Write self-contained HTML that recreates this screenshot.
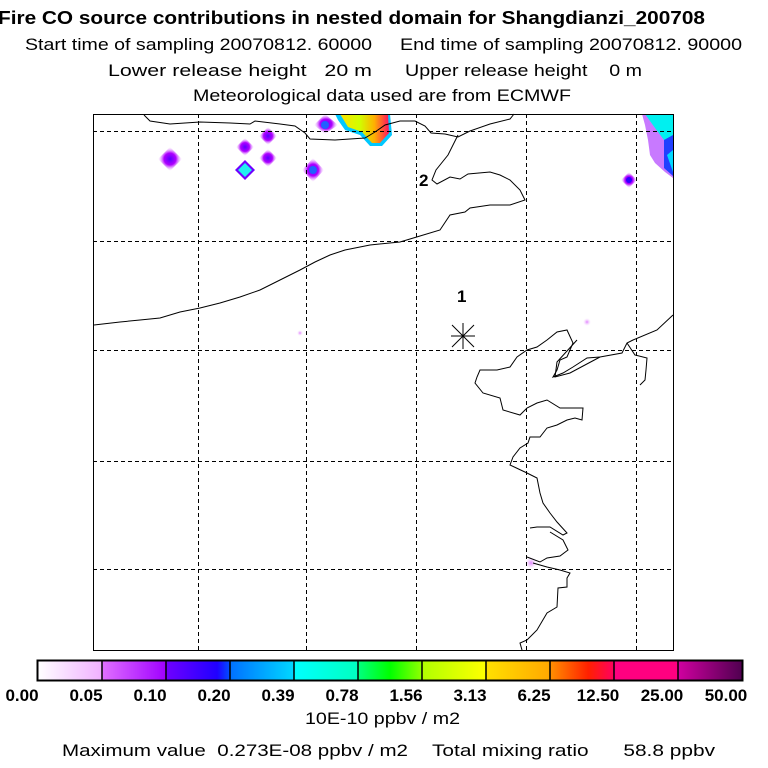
<!DOCTYPE html>
<html><head><meta charset="utf-8"><style>
body{margin:0;background:#fff;width:768px;height:768px;overflow:hidden}
svg{display:block}
text{font-family:"Liberation Sans",sans-serif;fill:#000;white-space:pre}
</style></head><body>
<svg width="768" height="768" viewBox="0 0 768 768" xmlns="http://www.w3.org/2000/svg" xml:space="preserve">
<defs>
<radialGradient id="pp"><stop offset="0" stop-color="#5a00ff"/><stop offset="0.5" stop-color="#b000ff"/><stop offset="1" stop-color="#f0c0ff" stop-opacity="0"/></radialGradient>
<radialGradient id="lp"><stop offset="0" stop-color="#e080ff"/><stop offset="1" stop-color="#f8e0ff" stop-opacity="0"/></radialGradient>
<linearGradient id="yl" x1="0" y1="0" x2="1" y2="0"><stop offset="0" stop-color="#ffe000"/><stop offset="0.4" stop-color="#d0ff00"/><stop offset="0.7" stop-color="#ffb000"/><stop offset="1" stop-color="#ff1060"/></linearGradient>
</defs>
<text x="-2" y="24" font-size="18" font-weight="bold" textLength="707" lengthAdjust="spacingAndGlyphs">Fire CO source contributions in nested domain for Shangdianzi_200708</text>
<text x="25" y="50" font-size="17" textLength="347" lengthAdjust="spacingAndGlyphs">Start time of sampling 20070812. 60000</text>
<text x="400" y="50" font-size="17" textLength="342" lengthAdjust="spacingAndGlyphs">End time of sampling 20070812. 90000</text>
<text x="108" y="76" font-size="17" textLength="264" lengthAdjust="spacingAndGlyphs">Lower release height   20 m</text>
<text x="405" y="76" font-size="17" textLength="237" lengthAdjust="spacingAndGlyphs">Upper release height    0 m</text>
<text x="193" y="101" font-size="17" textLength="378" lengthAdjust="spacingAndGlyphs">Meteorological data used are from ECMWF</text>

<g>
<polygon points="170,147 182,159 170,171 158,159" fill="url(#pp)"/>
<polygon points="245,138 254,147 245,156 236,147" fill="url(#pp)"/>
<polygon points="268,127 277,136 268,145 259,136" fill="url(#pp)"/>
<polygon points="268,149 277,158 268,167 259,158" fill="url(#pp)"/>
<polygon points="245,160 255,170 245,180 235,170" fill="#7000ff"/>
<polygon points="245,163 252,170 245,177 238,170" fill="#20f0f0"/>
<polygon points="313,158 324,170 313,182 302,170" fill="url(#pp)"/>
<circle cx="313" cy="170" r="4" fill="#2060ff"/>
<polygon points="325,114 338,125 325,134 314,125" fill="url(#pp)"/>
<circle cx="325" cy="125" r="4" fill="#2060ff"/>
<polygon points="335,114 390,114 392,135 382,146 370,146 360,135 345,130 338,120" fill="#00c8ff"/>
<polygon points="340,114 388,114 389,133 380,143 372,143 362,132 348,127" fill="url(#yl)"/>
<polygon points="642,114 673,114 673,178 665,172 655,163 650,155 648,140 645,125" fill="#b040ff" opacity="0.7"/>
<polygon points="645,114 673,114 673,150 664,140 655,128" fill="#00f0f0"/>
<polygon points="664,140 673,135 673,176 664,168" fill="#2040ff"/>
<polygon points="667,155 673,150 673,172" fill="#00d8ff"/>
<polygon points="629,172 637,180 629,188 621,180" fill="url(#pp)"/>
<circle cx="629" cy="180" r="3" fill="#3000ff"/>
<circle cx="300" cy="333" r="3" fill="url(#lp)"/>
<circle cx="587" cy="322" r="4" fill="url(#lp)"/>
<circle cx="531" cy="563" r="6" fill="url(#lp)"/>
</g>

<g stroke="#000" stroke-width="1" stroke-dasharray="4,3" fill="none">
<line x1="198.5" y1="114" x2="198.5" y2="650"/>
<line x1="306.5" y1="114" x2="306.5" y2="650"/>
<line x1="416.5" y1="114" x2="416.5" y2="650"/>
<line x1="526.5" y1="114" x2="526.5" y2="650"/>
<line x1="636.5" y1="114" x2="636.5" y2="650"/>
<line x1="93" y1="131.5" x2="673" y2="131.5"/>
<line x1="93" y1="241.5" x2="673" y2="241.5"/>
<line x1="93" y1="350.5" x2="673" y2="350.5"/>
<line x1="93" y1="461.5" x2="673" y2="461.5"/>
<line x1="93" y1="569.5" x2="673" y2="569.5"/>
</g>

<g stroke="#000" stroke-width="1" fill="none">
<polyline points="144,115 150,121 170,124 200,122 230,123 250,124 255,121 280,124 295,126 305,133 310,139 335,140 365,138 375,132 385,125 400,121 415,121 425,126 431,133 445,134 458,137 470,131 490,124 510,119 514,114"/>
<polyline points="458,135 448,155 436,170 432,180 437,184 450,177 460,179 468,174 490,172 500,175 510,180 520,190 525,200 510,205 490,205 470,208 465,212 450,215 440,230 420,236 400,242 370,245 345,250 330,255 315,262 300,270 280,280 260,290 240,297 220,303 200,308 180,312 160,318 140,320 120,322 94,325"/>
<polyline points="673,315 657,330 633,340 627,343 622,353 600,357 587,358 573,367 563,373 553,377 557,370 560,360 567,357 573,343 567,330 557,332 547,340 537,347 527,350 517,357 510,367 497,370 480,370 477,377 475,383 483,393 500,398 503,410 520,415 527,408 537,403 547,400 560,408 583,408 582,420 575,418 567,420 557,425 547,428 540,437 530,437 528,443 520,448 513,457 510,465 527,473 537,478 540,493 543,503 550,513 557,522 567,533 563,535 550,527 537,527 530,528"/>
<polyline points="527,557 540,562 547,558 560,556 568,550 563,540 550,532"/>
<polyline points="533,563 547,567 560,570 570,573 567,578 567,587 558,588 557,607 547,613 537,630 527,640 520,643 522,650"/>
<polyline points="627,343 635,355 647,358 646,370 645,380 640,385"/>
<polyline points="577,340 557,362 555,377 570,373 600,357"/>
</g>
<rect x="93.5" y="114.5" width="580" height="536" fill="none" stroke="#000" stroke-width="1"/>

<text x="457" y="302" font-size="17" font-weight="bold">1</text>
<text x="419" y="186" font-size="17" font-weight="bold">2</text>
<g stroke="#000" stroke-width="1">
<line x1="451" y1="336" x2="475" y2="336"/><line x1="463" y1="323" x2="463" y2="349"/>
<line x1="452" y1="325" x2="474" y2="347"/><line x1="474" y1="325" x2="452" y2="347"/>
</g>

<defs>
<linearGradient id="c1"><stop offset="0" stop-color="#fff"/><stop offset="1" stop-color="#f0b0ff"/></linearGradient>
<linearGradient id="c2"><stop offset="0" stop-color="#e070ff"/><stop offset="1" stop-color="#a000ff"/></linearGradient>
<linearGradient id="c3"><stop offset="0" stop-color="#7000ff"/><stop offset="0.8" stop-color="#2000ff"/><stop offset="1" stop-color="#0050ff"/></linearGradient>
<linearGradient id="c4"><stop offset="0" stop-color="#0070ff"/><stop offset="1" stop-color="#00d8ff"/></linearGradient>
<linearGradient id="c5"><stop offset="0" stop-color="#00ffff"/><stop offset="1" stop-color="#00ffc0"/></linearGradient>
<linearGradient id="c6"><stop offset="0" stop-color="#00ff80"/><stop offset="0.5" stop-color="#00ff00"/><stop offset="1" stop-color="#90ff00"/></linearGradient>
<linearGradient id="c7"><stop offset="0" stop-color="#b0ff00"/><stop offset="1" stop-color="#ffff00"/></linearGradient>
<linearGradient id="c8"><stop offset="0" stop-color="#ffe000"/><stop offset="1" stop-color="#ffa800"/></linearGradient>
<linearGradient id="c9"><stop offset="0" stop-color="#ff9000"/><stop offset="0.6" stop-color="#ff2000"/><stop offset="1" stop-color="#ff0060"/></linearGradient>
<linearGradient id="c11"><stop offset="0" stop-color="#d000a0"/><stop offset="1" stop-color="#500050"/></linearGradient>
</defs>
<rect x="38" y="661" width="64" height="19" fill="url(#c1)"/>
<rect x="102" y="661" width="64" height="19" fill="url(#c2)"/>
<rect x="166" y="661" width="64" height="19" fill="url(#c3)"/>
<rect x="230" y="661" width="64" height="19" fill="url(#c4)"/>
<rect x="294" y="661" width="64" height="19" fill="url(#c5)"/>
<rect x="358" y="661" width="64" height="19" fill="url(#c6)"/>
<rect x="422" y="661" width="64" height="19" fill="url(#c7)"/>
<rect x="486" y="661" width="64" height="19" fill="url(#c8)"/>
<rect x="550" y="661" width="64" height="19" fill="url(#c9)"/>
<rect x="614" y="661" width="64" height="19" fill="#ff0080"/>
<rect x="678" y="661" width="64" height="19" fill="url(#c11)"/>
<g stroke="#000" stroke-width="1.5">
<rect x="37.5" y="660.5" width="705" height="20" fill="none" stroke-width="2"/>
<line x1="102" y1="661" x2="102" y2="680"/><line x1="166" y1="661" x2="166" y2="680"/>
<line x1="230" y1="661" x2="230" y2="680"/><line x1="294" y1="661" x2="294" y2="680"/>
<line x1="358" y1="661" x2="358" y2="680"/><line x1="422" y1="661" x2="422" y2="680"/>
<line x1="486" y1="661" x2="486" y2="680"/><line x1="550" y1="661" x2="550" y2="680"/>
<line x1="614" y1="661" x2="614" y2="680"/><line x1="678" y1="661" x2="678" y2="680"/>
</g>
<g font-size="17" font-weight="bold" text-anchor="middle">
<text x="22" y="701">0.00</text><text x="86" y="701">0.05</text><text x="150" y="701">0.10</text>
<text x="214" y="701">0.20</text><text x="278" y="701">0.39</text><text x="342" y="701">0.78</text>
<text x="406" y="701">1.56</text><text x="470" y="701">3.13</text><text x="534" y="701">6.25</text>
<text x="598" y="701">12.50</text><text x="662" y="701">25.00</text><text x="726" y="701">50.00</text>
</g>
<text x="305" y="724" font-size="17" textLength="155" lengthAdjust="spacingAndGlyphs">10E-10 ppbv / m2</text>
<text x="62" y="756" font-size="17" textLength="346" lengthAdjust="spacingAndGlyphs">Maximum value  0.273E-08 ppbv / m2</text>
<text x="432" y="756" font-size="17" textLength="283" lengthAdjust="spacingAndGlyphs">Total mixing ratio      58.8 ppbv</text>
</svg>
</body></html>
